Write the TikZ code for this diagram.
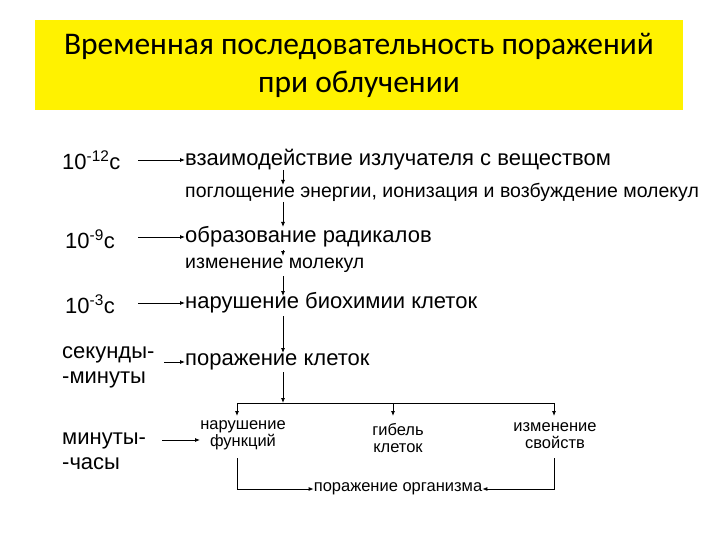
\documentclass[tikz,border=0pt]{standalone}
\usepackage{fontspec}
\setmainfont{Liberation Sans}
\newfontfamily\titlefont{Carlito}
\usetikzlibrary{arrows.meta}
\begin{document}
\begin{tikzpicture}[x=1pt,y=-1pt,
  big/.style={anchor=west,inner sep=0pt,font=\fontsize{22}{26}\selectfont},
  mid/.style={anchor=west,inner sep=0pt,font=\fontsize{19.5}{23}\selectfont},
  sml/.style={inner sep=0pt,align=center,font=\fontsize{16.5}{17}\selectfont},
  lab/.style={anchor=west,inner sep=0pt,align=left,font=\fontsize{22}{25}\selectfont},
  arr/.style={-{Latex[length=5pt,width=4pt]},line width=0.8pt}]
\useasboundingbox (0,0) rectangle (720,540);
\fill[yellow] (35,20) rectangle (683,110);
\node[align=center,font=\titlefont\fontsize{31.5}{38}\selectfont] (title) at (359,65) {Временная последовательность поражений\\при облучении};
% left labels
\node[lab] (l1) at (62,160) {10\textsuperscript{-12}с};
\node[lab] (l2) at (65,239) {10\textsuperscript{-9}с};
\node[lab] (l3) at (65,304) {10\textsuperscript{-3}с};
\node[lab] (l4) at (62,367) {секунды-\\-минуты};
\node[lab] (l5) at (62,451) {минуты-\\-часы};
% main chain
\node[big] (t1) at (185,160) {взаимодействие излучателя с веществом};
\node[mid] (t2) at (185,192) {поглощение энергии, ионизация и возбуждение молекул};
\node[big] (t3) at (185,237) {образование радикалов};
\node[mid] (t4) at (185,265) {изменение молекул};
\node[big] (t5) at (185,303) {нарушение биохимии клеток};
\node[big] (t6) at (185,362) {поражение клеток};
\node[sml] (b1) at (243,435) {нарушение\\функций};
\node[sml] (b2) at (398,438) {гибель\\клеток};
\node[sml] (b3) at (555,436) {изменение\\свойств};
\node[sml] (org) at (398,489) {поражение организма};
% horizontal arrows
\draw[arr] (138,160) -- (t1.west|-138,160);
\draw[arr] (138,237) -- (t3.west);
\draw[arr] (138,303) -- (t5.west);
\draw[arr] (164,362) -- (t6.west);
\draw[arr] (162,440) -- (200,440);
% vertical chain
\draw[arr] (283,170) -- (283,185);
\draw[arr] (283,202) -- (283,227);
\draw[arr] (283,250) -- (283,256);
\draw[arr] (283,276) -- (283,296);
\draw[arr] (283,316) -- (283,353);
\draw[arr] (283,372) -- (283,403);
\draw[line width=0.8pt] (237,403) -- (554,403);
\draw[arr] (237,403) -- (237,416);
\draw[arr] (393,403) -- (393,416);
\draw[arr] (554,403) -- (554,416);
\draw[arr] (237,458) |- (org.west);
\draw[arr] (554,458) |- (org.east);
\end{tikzpicture}
\end{document}
